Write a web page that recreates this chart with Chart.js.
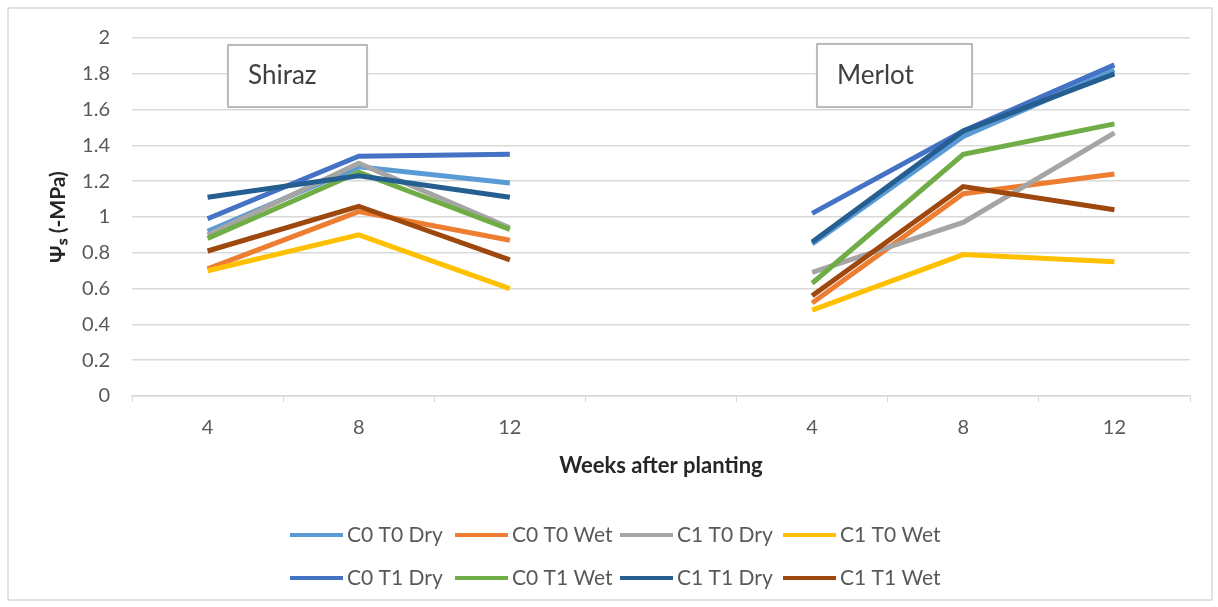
<!DOCTYPE html>
<html lang="en">
<head>
  <meta charset="UTF-8" />
  <title>Stem water potential - Shiraz and Merlot</title>
  <script src="https://cdn.jsdelivr.net/npm/chart.js"></script>
  <style>
    html, body {
      margin: 0;
      padding: 0;
      background: #ffffff;
    }
    #wrap {
      position: relative;
      width: 1218px;
      height: 607px;
    }
  </style>
</head>
<body>
  <div id="wrap"><canvas id="psiChart"></canvas></div>

  <script>
    // weeks after planting, Shiraz block then Merlot block (empty slot between)
    const weeks = ["4", "8", "12", "", "4", "8", "12"];

    const seriesNames = [
      "C0 T0 Dry", "C0 T0 Wet", "C1 T0 Dry", "C1 T0 Wet",
      "C0 T1 Dry", "C0 T1 Wet", "C1 T1 Dry", "C1 T1 Wet"
    ];
    const seriesColors = [
      "#5B9BD5", "#ED7D31", "#A5A5A5", "#FFC000",
      "#4472C4", "#70AD47", "#255E91", "#9E480E"
    ];

    // psi s (-MPa)
    const c0t0Dry = [0.92, 1.28, 1.19, null, 0.85, 1.45, 1.82];
    const c0t0Wet = [0.71, 1.03, 0.87, null, 0.52, 1.13, 1.24];
    const c1t0Dry = [0.90, 1.30, 0.94, null, 0.69, 0.97, 1.47];
    const c1t0Wet = [0.70, 0.90, 0.60, null, 0.48, 0.79, 0.75];
    const c0t1Dry = [0.99, 1.34, 1.35, null, 1.02, 1.48, 1.85];
    const c0t1Wet = [0.88, 1.25, 0.93, null, 0.63, 1.35, 1.52];
    const c1t1Dry = [1.11, 1.23, 1.11, null, 0.86, 1.48, 1.80];
    const c1t1Wet = [0.81, 1.06, 0.76, null, 0.56, 1.17, 1.04];

    const seriesValues = [c0t0Dry, c0t0Wet, c1t0Dry, c1t0Wet, c0t1Dry, c0t1Wet, c1t1Dry, c1t1Wet];

    const yTicks = { min: 0, max: 2, step: 0.2 };

    const FONT = "Lato, 'Liberation Sans', Arial, sans-serif";

    // white background, outer frame, cultivar labels and the legend
    const chartDecor = {
      id: "chartDecor",
      beforeDraw(chart) {
        const ctx = chart.ctx;
        ctx.save();
        ctx.fillStyle = "#ffffff";
        ctx.fillRect(0, 0, chart.width, chart.height);
        ctx.strokeStyle = "#d9d9d9";
        ctx.lineWidth = 1.5;
        ctx.strokeRect(8, 8, chart.width - 14, chart.height - 15);
        ctx.restore();
      },
      afterDraw(chart) {
        const ctx = chart.ctx;
        ctx.save();

        // cultivar boxes
        const boxes = [
          { text: "Shiraz", x: 228, y: 45, w: 139, h: 62 },
          { text: "Merlot", x: 817, y: 44, w: 155, h: 63 }
        ];
        boxes.forEach(b => {
          ctx.fillStyle = "#ffffff";
          ctx.shadowColor = "rgba(0,0,0,0.12)";
          ctx.shadowBlur = 3;
          ctx.fillRect(b.x, b.y, b.w, b.h);
          ctx.shadowBlur = 0;
          ctx.shadowColor = "transparent";
          ctx.strokeStyle = "#a6a6a6";
          ctx.lineWidth = 1.5;
          ctx.strokeRect(b.x, b.y, b.w, b.h);
          ctx.fillStyle = "#404040";
          ctx.font = "26px " + FONT;
          ctx.textAlign = "left";
          ctx.textBaseline = "middle";
          ctx.fillText(b.text, b.x + 20, b.y + b.h / 2);
        });

        // legend: 4 columns x 2 rows
        const colX = [290, 455, 620, 783];
        const rowY = [535, 578];
        ctx.font = "21px " + FONT;
        ctx.textBaseline = "middle";
        chart.data.datasets.forEach((ds, i) => {
          const x = colX[i % 4];
          const y = rowY[Math.floor(i / 4)];
          ctx.strokeStyle = ds.borderColor;
          ctx.lineWidth = 4;
          ctx.beginPath();
          ctx.moveTo(x, y);
          ctx.lineTo(x + 53, y);
          ctx.stroke();
          ctx.fillStyle = "#595959";
          ctx.fillText(ds.label, x + 57, y);
        });

        ctx.restore();
      }
    };

    const datasets = seriesNames.map((name, i) => ({
      label: name,
      data: seriesValues[i],
      borderColor: seriesColors[i],
      backgroundColor: seriesColors[i],
      borderWidth: 5,
      pointRadius: 0,
      pointHoverRadius: 0,
      tension: 0,
      fill: false,
      spanGaps: false,
      // later series drawn on top
      order: seriesNames.length - i
    }));

    new Chart(document.getElementById("psiChart"), {
      type: "line",
      data: { labels: weeks, datasets: datasets },
      plugins: [chartDecor],
      options: {
        responsive: true,
        maintainAspectRatio: false,
        animation: false,
        layout: { padding: { top: 38, right: 28, bottom: 121, left: 0 } },
        plugins: {
          legend: { display: false },
          tooltip: { enabled: false }
        },
        scales: {
          x: {
            offset: true,
            afterFit(scale) { scale.height = 90; },
            grid: {
              display: true,
              offset: true,
              drawOnChartArea: false,
              drawTicks: true,
              tickLength: 6,
              color: "#d9d9d9"
            },
            border: { display: true, color: "#d9d9d9", width: 1.5 },
            ticks: {
              color: "#595959",
              font: { family: FONT, size: 20 },
              padding: 14,
              autoSkip: false,
              maxRotation: 0
            },
            title: {
              display: true,
              text: "Weeks after planting",
              color: "#262626",
              font: { family: FONT, size: 22, weight: "bold" },
              padding: { top: 0, bottom: 7 }
            }
          },
          y: {
            min: yTicks.min,
            max: yTicks.max,
            afterFit(scale) { scale.width = 132; },
            grid: { color: "#d9d9d9", drawTicks: false, lineWidth: 1.5 },
            border: { display: false },
            ticks: {
              stepSize: yTicks.step,
              color: "#595959",
              font: { family: FONT, size: 20 },
              padding: 22,
              callback: v => String(+v.toFixed(1))
            },
            title: {
              display: true,
              text: "\u03A8\u209B (-MPa)",
              color: "#262626",
              font: { family: FONT, size: 21, weight: "bold" },
              padding: { top: 46, bottom: 0 }
            }
          }
        }
      }
    });
  </script>
</body>
</html>
